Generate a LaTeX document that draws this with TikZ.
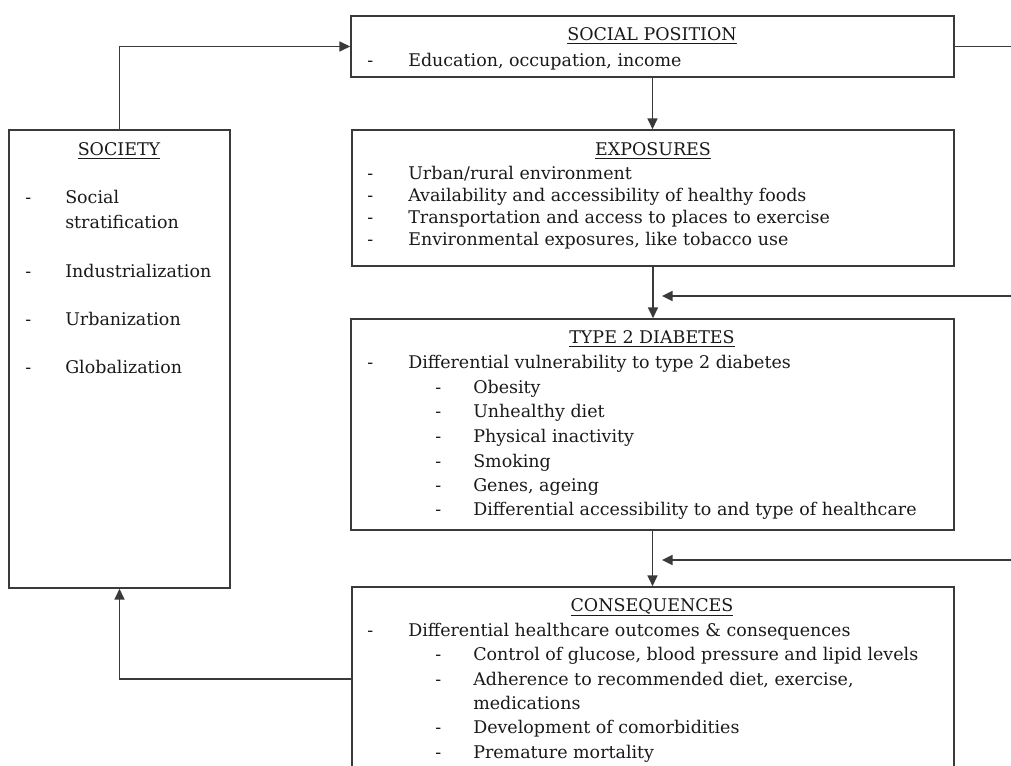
\documentclass[tikz,border=0pt]{standalone}
\usepackage{fontspec}
\setmainfont{DejaVu Serif}
\usetikzlibrary{arrows.meta,fit}
\definecolor{ink}{HTML}{1A1A1A}
\definecolor{edgec}{HTML}{3A3A3A}
\begin{document}
\begin{tikzpicture}[x=0.75pt,y=-0.75pt,
  box/.style={draw=edgec,line width=1.3pt,inner sep=0pt},
  conn/.style={draw=edgec,line width=1.2pt},
  arr/.style={conn,-{Triangle[length=8pt,width=7.5pt]}},
  txt/.style={anchor=base west,inner sep=0pt,text=ink,font=\fontsize{13.1}{15}\selectfont},
  ttl/.style={anchor=base,inner sep=0pt,text=ink,font=\fontsize{13.1}{15}\selectfont},
]
\clip (0,0) rectangle (1011,766);
\fill[white] (0,0) rectangle (1011,766);
% boxes
\node[box,fit={(351,16) (954,77)}] (sp) {};
\node[box,fit={(352,130) (954,266)}] (ex) {};
\node[box,fit={(351,319) (954,530)}] (t2) {};
\node[box,fit={(352,587) (954,771)}] (co) {};
\node[box,fit={(9,130) (230,588)}] (so) {};
% free ends
\coordinate (r1) at (1020,46.5);
\coordinate (r2) at (1020,296);
\coordinate (a2) at (662,296);
\coordinate (r3) at (1020,560);
\coordinate (a3) at (662,560);
% connectors
\draw[arr] (so.north) |- (sp.west);
\draw[conn] (sp.east) -- (r1);
\draw[arr] (sp.south) -- (sp.south |- ex.north);
\draw[arr] (ex.south) -- (ex.south |- t2.north);
\draw[arr] (t2.south) -- (t2.south |- co.north);
\draw[arr] (r2) -- (a2);
\draw[arr] (r3) -- (a3);
\draw[arr] (co.west) -| (so.south);
% social position
\node[ttl] (spt) at (652,41) {\underline{SOCIAL POSITION}};
\node[txt] (spd1) at (367,67) {-};
\node[txt] (spl1) at (408,67) {Education, occupation, income};
% exposures
\node[ttl] (ext) at (653,156) {\underline{EXPOSURES}};
\node[txt] (exd1) at (367,180) {-};
\node[txt] (exl1) at (408,180) {Urban/rural environment};
\node[txt] (exd2) at (367,202) {-};
\node[txt] (exl2) at (408,202) {Availability and accessibility of healthy foods};
\node[txt] (exd3) at (367,224) {-};
\node[txt] (exl3) at (408,224) {Transportation and access to places to exercise};
\node[txt] (exd4) at (367,246) {-};
\node[txt] (exl4) at (408,246) {Environmental exposures, like tobacco use};
% type 2 diabetes
\node[ttl] (t2t) at (652,344) {\underline{TYPE 2 DIABETES}};
\node[txt] (t2d0) at (367,369) {-};
\node[txt] (t2l0) at (408,369) {Differential vulnerability to type 2 diabetes};
\node[txt] (t2d1) at (435,394) {-};
\node[txt] (t2l1) at (473,394) {Obesity};
\node[txt] (t2d2) at (435,418) {-};
\node[txt] (t2l2) at (473,418) {Unhealthy diet};
\node[txt] (t2d3) at (435,443) {-};
\node[txt] (t2l3) at (473,443) {Physical inactivity};
\node[txt] (t2d4) at (435,468) {-};
\node[txt] (t2l4) at (473,468) {Smoking};
\node[txt] (t2d5) at (435,492) {-};
\node[txt] (t2l5) at (473,492) {Genes, ageing};
\node[txt] (t2d6) at (435,516) {-};
\node[txt] (t2l6) at (473,516) {Differential accessibility to and type of healthcare};
% consequences
\node[ttl] (cot) at (652,611) {\underline{CONSEQUENCES}};
\node[txt] (cod0) at (367,636) {-};
\node[txt] (col0) at (408,636) {Differential healthcare outcomes \& consequences};
\node[txt] (cod1) at (435,660.5) {-};
\node[txt] (col1) at (473,660.5) {Control of glucose, blood pressure and lipid levels};
\node[txt] (cod2) at (435,685) {-};
\node[txt] (col2) at (473,685) {Adherence to recommended diet, exercise,};
\node[txt] (col2b) at (473,709) {medications};
\node[txt] (cod3) at (435,733.5) {-};
\node[txt] (col3) at (473,733.5) {Development of comorbidities};
\node[txt] (cod4) at (435,758) {-};
\node[txt] (col4) at (473,758) {Premature mortality};
% society
\node[ttl] (sot) at (119,156) {\underline{SOCIETY}};
\node[txt] (sod1) at (25,204) {-};
\node[txt] (sol1) at (65,204) {Social};
\node[txt] (sol1b) at (65,229) {stratification};
\node[txt] (sod2) at (25,278) {-};
\node[txt] (sol2) at (65,278) {Industrialization};
\node[txt] (sod3) at (25,326) {-};
\node[txt] (sol3) at (65,326) {Urbanization};
\node[txt] (sod4) at (25,374) {-};
\node[txt] (sol4) at (65,374) {Globalization};
\end{tikzpicture}
\end{document}
